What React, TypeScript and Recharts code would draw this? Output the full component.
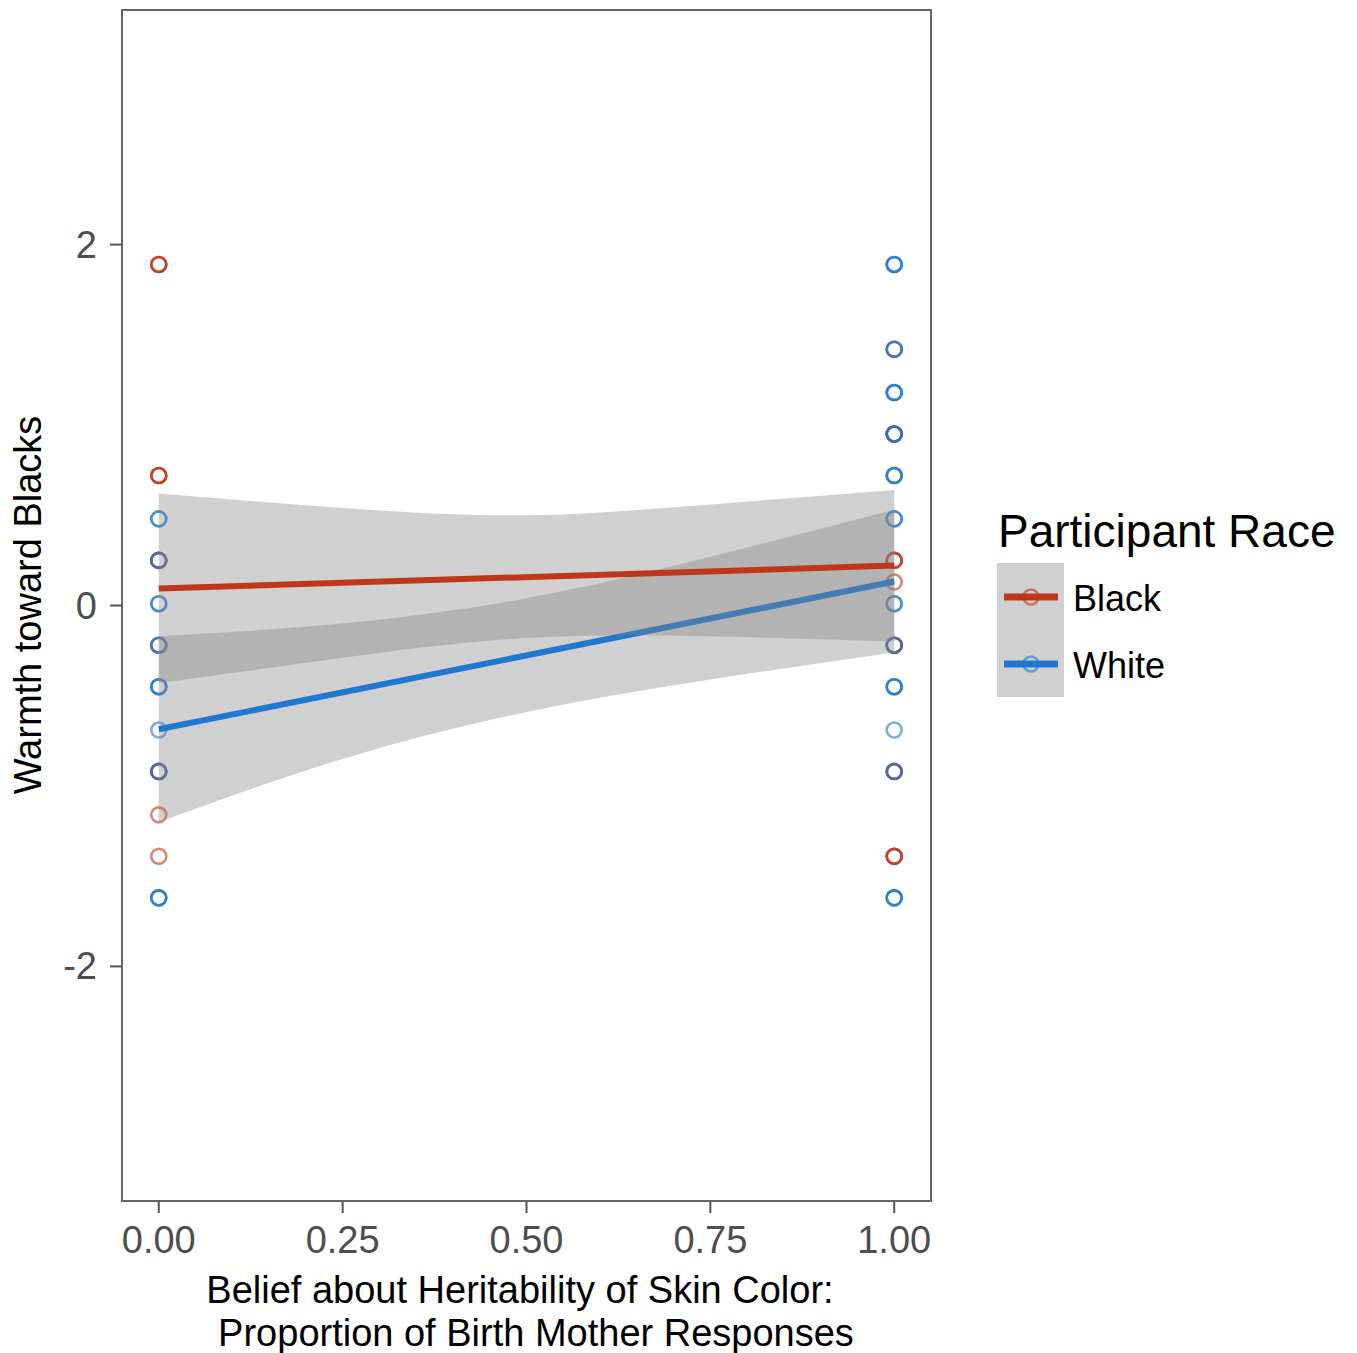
import { Area, ComposedChart, Legend, Line, ReferenceArea, Scatter, XAxis, YAxis } from "recharts";

// groups and colours
const races = ["Black", "White"];
const raceColors: Record<string, string> = { Black: "#c0361a", White: "#1f77d0" };

const xTicks = [0, 0.25, 0.5, 0.75, 1];
const yTicks = [-2, 0, 2];

// fitted lines (lm) at the two ends
const fitX = [0, 1];
const blackFit = [0.094, 0.221];
const whiteFit = [-0.686, 0.133];

// confidence ribbons
const bandX = [0, 0.25, 0.5, 0.75, 1];
const blackLow = [-0.43, -0.29, -0.18, -0.17, -0.2];
const blackHigh = [0.62, 0.54, 0.5, 0.56, 0.64];
const whiteLow = [-1.2, -0.85, -0.59, -0.41, -0.26];
const whiteHigh = [-0.17, -0.1, 0.04, 0.27, 0.53];

// raw responses: y levels and how many of each race sit on them
const ysAt0 = [1.89, 0.72, 0.48, 0.25, 0.01, -0.22, -0.45, -0.69, -0.92, -1.16, -1.39, -1.62];
const blackAt0 = [3, 3, 0, 2, 0, 1, 0, 0, 2, 1, 1, 0];
const whiteAt0 = [0, 0, 2, 2, 2, 2, 3, 1, 2, 0, 0, 3];
const ysAt1 = [1.89, 1.42, 1.18, 0.95, 0.72, 0.48, 0.25, 0.13, 0.01, -0.22, -0.45, -0.69, -0.92, -1.39, -1.62];
const blackAt1 = [0, 1, 0, 2, 0, 0, 3, 1, 0, 2, 0, 0, 2, 3, 0];
const whiteAt1 = [3, 2, 3, 3, 3, 2, 0, 0, 2, 2, 3, 1, 2, 0, 3];

const FONT = "'Liberation Sans', Arial, Helvetica, sans-serif";
const W = 1349;
const H = 1345;
const PLOT = { left: 114, top: 2, right: 923, bottom: 1193 };

const bandData = bandX.map((x, i) => ({
	x,
	blackBand: [blackLow[i], blackHigh[i]],
	whiteBand: [whiteLow[i], whiteHigh[i]],
}));
const blackFitData = fitX.map((x, i) => ({ x, y: blackFit[i] }));
const whiteFitData = fitX.map((x, i) => ({ x, y: whiteFit[i] }));

type Pt = { x: number; y: number; race: string };
const expand = (x: number, ys: number[], blacks: number[], whites: number[]) => {
	const rows: Pt[] = [];
	ys.forEach((y, i) => {
		const n = Math.max(blacks[i], whites[i]);
		for (let k = 0; k < n; k++) {
			if (k < blacks[i]) rows.push({ x, y, race: "Black" });
			if (k < whites[i]) rows.push({ x, y, race: "White" });
		}
	});
	return rows;
};
const points = [...expand(0, ysAt0, blackAt0, whiteAt0), ...expand(1, ysAt1, blackAt1, whiteAt1)];

const renderDot = (props: any) => {
	const { cx, cy, payload } = props;
	if (cx == null || cy == null) return <g />;
	return (
		<circle cx={cx} cy={cy} r={7.5} fill="none" stroke={raceColors[payload.race]} strokeOpacity={0.6} strokeWidth={2.6} />
	);
};

const renderXTick = (props: any) => {
	const { x, y, payload } = props;
	return (
		<text x={x} y={y} dy={40} textAnchor="middle" fill="#4d4d4d" fontSize={38} fontFamily={FONT}>
			{Number(payload.value).toFixed(2)}
		</text>
	);
};

const renderYTick = (props: any) => {
	const { x, y, payload } = props;
	return (
		<text x={x} y={y} dx={-13} dy={13} textAnchor="end" fill="#4d4d4d" fontSize={38} fontFamily={FONT}>
			{String(payload.value)}
		</text>
	);
};

const renderXTitle = () => (
	<g fontFamily={FONT} fontSize={38} fill="#000">
		<text x={512} y={1295} textAnchor="middle">
			Belief about Heritability of Skin Color:
		</text>
		<text x={528} y={1338} textAnchor="middle">
			Proportion of Birth Mother Responses
		</text>
	</g>
);

const renderYTitle = () => (
	<text
		x={33}
		y={597}
		transform="rotate(-90, 33, 597)"
		textAnchor="middle"
		fontFamily={FONT}
		fontSize={38}
		fill="#000">
		Warmth toward Blacks
	</text>
);

const renderLegend = () => (
	<svg width={360} height={215} style={{ display: "block" }}>
		<text x={8} y={47} fontFamily={FONT} fontSize={46} fill="#000">
			Participant Race
		</text>
		<rect x={7} y={63} width={67} height={134} fill="#d0d0d0" />
		{races.map((r, i) => {
			const cy = 97 + i * 67;
			return (
				<g key={r}>
					<line x1={14} x2={68} y1={cy} y2={cy} stroke={raceColors[r]} strokeWidth={7} />
					<circle cx={41} cy={cy} r={7.5} fill="none" stroke={raceColors[r]} strokeOpacity={0.6} strokeWidth={2.6} />
					<text x={83} y={cy + 14} fontFamily={FONT} fontSize={36} fill="#000">
						{r}
					</text>
				</g>
			);
		})}
	</svg>
);

export default function App() {
	return (
		<ComposedChart
			width={W}
			height={H}
			data={bandData}
			margin={{ top: PLOT.top, right: W - PLOT.right, bottom: 0, left: 0 }}>
			<XAxis
				dataKey="x"
				type="number"
				domain={[-0.05, 1.05]}
				ticks={xTicks}
				allowDataOverflow
				axisLine={false}
				tickSize={12}
				tickMargin={0}
				tickLine={{ stroke: "#555", strokeWidth: 2 }}
				tick={renderXTick}
				height={H - PLOT.bottom}
				label={renderXTitle}
			/>
			<YAxis
				dataKey="y"
				type="number"
				domain={[-3.3, 3.3]}
				ticks={yTicks}
				allowDataOverflow
				axisLine={false}
				tickSize={12}
				tickMargin={0}
				tickLine={{ stroke: "#555", strokeWidth: 2 }}
				tick={renderYTick}
				width={PLOT.left}
				label={renderYTitle}
			/>
			<Scatter data={points} fill="none" shape={renderDot} isAnimationActive={false} zIndex={110} />
			<Area
				dataKey="whiteBand"
				type="natural"
				stroke="none"
				fill="#848484"
				fillOpacity={0.38}
				isAnimationActive={false}
				zIndex={120}
			/>
			<Line
				data={whiteFitData}
				dataKey="y"
				stroke={raceColors.White}
				strokeWidth={6}
				dot={false}
				isAnimationActive={false}
				zIndex={130}
			/>
			<Area
				dataKey="blackBand"
				type="natural"
				stroke="none"
				fill="#848484"
				fillOpacity={0.38}
				isAnimationActive={false}
				zIndex={140}
			/>
			<Line
				data={blackFitData}
				dataKey="y"
				stroke={raceColors.Black}
				strokeWidth={6}
				dot={false}
				isAnimationActive={false}
				zIndex={150}
			/>
			<ReferenceArea x1={-0.05} x2={1.05} y1={-3.3} y2={3.3} fill="none" stroke="#666" strokeWidth={2} zIndex={160} />
			<Legend
				layout="horizontal"
				verticalAlign="middle"
				content={renderLegend}
				wrapperStyle={{ position: "absolute", left: 982, top: 492, width: 360, height: 215 }}
			/>
		</ComposedChart>
	);
}
